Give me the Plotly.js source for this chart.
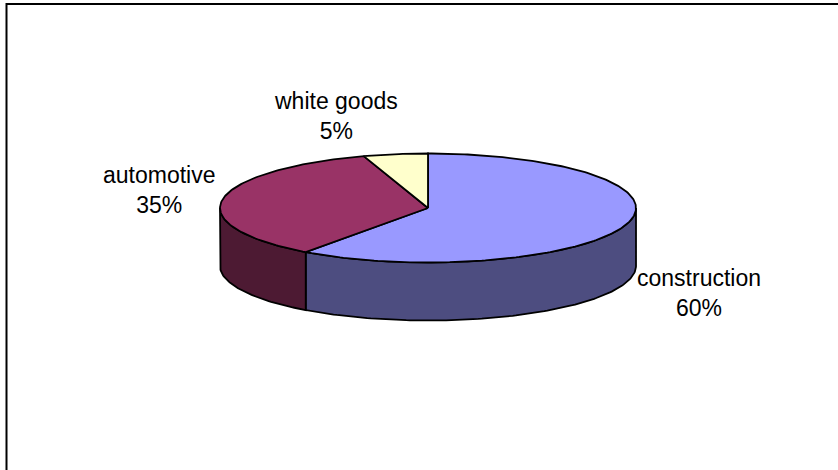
<!DOCTYPE html>
<html>
<head>
<meta charset="utf-8">
<script src="https://cdn.plot.ly/plotly-3.0.1.min.js"></script>
<style>html,body{margin:0;padding:0;background:#fff}#chart{width:838px;height:470px}</style>
</head>
<body>
<div id="chart"></div>
<script>
// Market shares by sector, clockwise from twelve o'clock
const categories = ['construction', 'automotive', 'white goods'];
const shares = [60, 35, 5];
const topColors = ['#9999FF', '#993366', '#FFFFCC'];
const sideColors = ['#4D4D80', '#4D1A33', '#808066'];

// Tilted disc geometry, in plot units
const cx = 428, cy = 208, rx = 208, ry = 54.5, depth = 58;
const labelAnchors = [[699, 293], [159, 189.5], [336, 116]];

const rimPoint = (deg, drop) => {
  const a = deg * Math.PI / 180;
  return [cx + rx * Math.sin(a), cy - ry * Math.cos(a) + drop];
};
const arc = (from, to, drop) => {
  const pts = [];
  const n = Math.max(2, Math.ceil(Math.abs(to - from)));
  for (let i = 0; i <= n; i++) pts.push(rimPoint(from + (to - from) * i / n, drop));
  return pts;
};
const polygon = (pts, fill, name) => ({
  type: 'scatter', mode: 'lines', name,
  x: pts.map(p => p[0]), y: pts.map(p => p[1]),
  fill: 'toself', fillcolor: fill,
  line: {color: '#000', width: 1.8, shape: 'linear'},
  hoverinfo: 'skip', showlegend: false
});

const total = shares.reduce((s, v) => s + v, 0);
const sides = [], tops = [];
let start = 0;
shares.forEach((v, i) => {
  const end = start + v / total * 360;
  // The wall is visible only on the front half of the rim (90 to 270 degrees)
  const a = Math.max(start, 90), b = Math.min(end, 270);
  if (b > a) {
    sides.push(polygon([...arc(a, b, 0), ...arc(b, a, depth), rimPoint(a, 0)], sideColors[i], categories[i] + ' side'));
  }
  tops.push(polygon([[cx, cy], ...arc(start, end, 0), [cx, cy]], topColors[i], categories[i]));
  start = end;
});

const annotations = categories.map((c, i) => ({
  x: labelAnchors[i][0], y: labelAnchors[i][1],
  xref: 'x', yref: 'y', xanchor: 'center', yanchor: 'middle',
  text: c + '<br>' + shares[i] + '%', showarrow: false, align: 'center',
  font: {family: 'Liberation Sans, Arial, sans-serif', size: 23, color: '#000'}
}));

const hidden = {visible: false, fixedrange: true};
Plotly.newPlot('chart', [...sides, ...tops], {
  width: 838, height: 470,
  margin: {l: 0, r: 0, t: 0, b: 0},
  paper_bgcolor: '#fff', plot_bgcolor: '#fff',
  xaxis: {...hidden, range: [0, 838]},
  yaxis: {...hidden, range: [470, 0]},
  showlegend: false,
  annotations,
  shapes: [
    {type: 'line', xref: 'x', yref: 'y', x0: 6.5, x1: 838, y0: 4, y1: 4, line: {color: '#000', width: 2}},
    {type: 'line', xref: 'x', yref: 'y', x0: 6.5, x1: 6.5, y0: 3, y1: 470, line: {color: '#000', width: 2}}
  ]
}, {displayModeBar: false, staticPlot: true});
</script>
</body>
</html>
